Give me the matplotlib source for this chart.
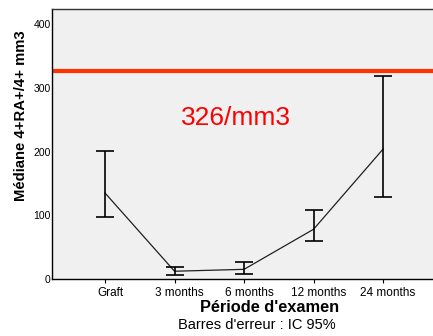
import matplotlib
matplotlib.use("Agg")
import matplotlib.pyplot as plt
import matplotlib.transforms as mtransforms
import numpy as np

plt.rcParams['font.family'] = ['Liberation Sans', 'DejaVu Sans']

periods = ["Graft", "3 months", "6 months", "12 months", "24 months"]
median = [135, 12, 15, 78, 204]
ci_low = [98, 6, 8, 59, 128]
ci_high = [201, 19, 27, 109, 319]
threshold = 326
y_ticks = [0, 100, 200, 300, 400]

fig = plt.figure(figsize=(4.33, 3.36), dpi=100)
# plotting frame runs past the right edge of the canvas
ax = fig.add_axes([0.120, 0.170, 1.012, 0.803])
ax.set_facecolor("#F0F0F0")

x = np.arange(1, len(periods) + 1)
med = np.array(median)
yerr = [med - np.array(ci_low), np.array(ci_high) - med]

ax.axhline(threshold, color="#FF3300", lw=3.0, zorder=2)
ax.plot(x, med, color="#202020", lw=0.9, zorder=3)
ax.errorbar(x, med, yerr=yerr, fmt="none", ecolor="black", elinewidth=1.2,
            capsize=6.5, capthick=1.2, zorder=4)

ax.text(2.885, 253, f"{threshold}/mm3", color="#FF0000", fontsize=19,
        ha="center", va="center")

ax.set_xlim(0.237, 6.54)
ax.set_ylim(0, 424)
ax.set_xticks(x)
ax.set_xticklabels(periods, fontsize=8.5)
ax.set_yticks(y_ticks)
ax.set_yticklabels([str(v) for v in y_ticks], fontsize=7.5)
ax.tick_params(axis="x", length=3, width=0.8, pad=3)
ax.tick_params(axis="y", length=0, pad=1)

shift = mtransforms.ScaledTranslation(5 / 100, 0, fig.dpi_scale_trans)
for lbl in ax.get_xticklabels():
    lbl.set_transform(lbl.get_transform() + shift)

for side in ["left", "bottom", "top"]:
    ax.spines[side].set_color("black")
    ax.spines[side].set_linewidth(1.0)
ax.spines["top"].set_color("#333333")
ax.spines["right"].set_visible(False)

fig.text(270 / 433, 1 - 307 / 336, "Période d'examen", fontsize=11.8,
         fontweight="bold", ha="center", va="center")
fig.text(21 / 433, 1 - 116 / 336, "Médiane 4+RA+/4+ mm3", fontsize=10.7,
         fontweight="bold", ha="center", va="center", rotation=90)
fig.text(257 / 433, 1 - 325 / 336, "Barres d'erreur : IC 95%", fontsize=10.5,
         ha="center", va="center")

fig.savefig("out.png", dpi=100)
